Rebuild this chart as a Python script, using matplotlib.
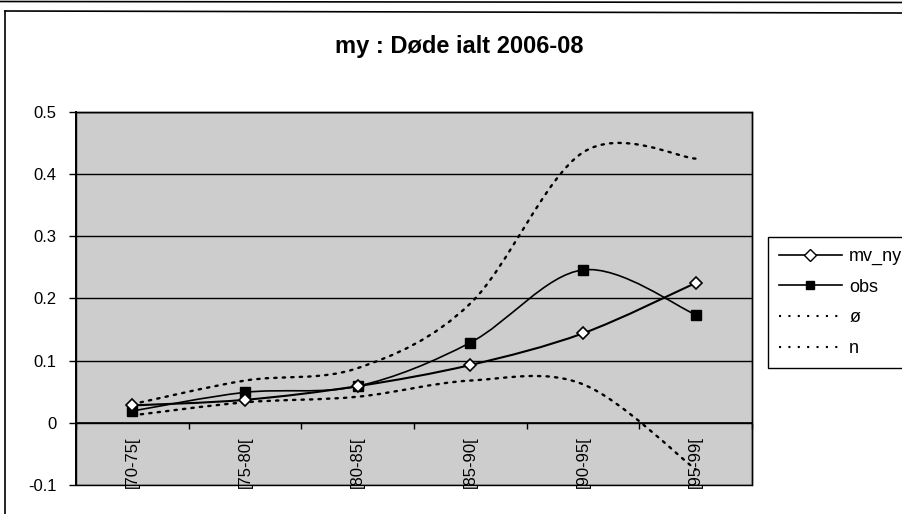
import numpy as np
import matplotlib
matplotlib.use('Agg')
import matplotlib.pyplot as plt
from matplotlib.path import Path
from matplotlib.patches import PathPatch, Rectangle
from matplotlib.lines import Line2D
from matplotlib.transforms import offset_copy

plt.rcParams['font.family'] = ['Liberation Sans', 'DejaVu Sans']

# ---- data ----
categories = ['[70-75[', '[75-80[', '[80-85[', '[85-90[', '[90-95[', '[95-99[']
mv_ny = [0.028, 0.037, 0.059, 0.093, 0.144, 0.225]
obs = [0.019, 0.049, 0.059, 0.129, 0.246, 0.174]
oe = [0.030, 0.068, 0.088, 0.192, 0.435, 0.425]
n_vals = [0.012, 0.033, 0.042, 0.068, 0.062, -0.075]
series_names = ['mv_ny', 'obs', 'ø', 'n']
yticks = [-0.1, 0, 0.1, 0.2, 0.3, 0.4, 0.5]
ytick_labels = ['-0.1', '0', '0.1', '0.2', '0.3', '0.4', '0.5']
title = 'my : Døde ialt 2006-08'


def smooth_path(xs, ys):
    """Excel-like smoothed line (cardinal Bezier spline) through the points."""
    pts = np.column_stack([xs, ys]).astype(float)
    N = len(pts)
    verts = [pts[0]]
    codes = [Path.MOVETO]
    for i in range(N - 1):
        p0 = pts[max(i - 1, 0)]
        p1 = pts[i]
        p2 = pts[i + 1]
        p3 = pts[min(i + 2, N - 1)]
        c1 = p1 + (p2 - p0) / 6.0
        c2 = p2 - (p3 - p1) / 6.0
        verts += [c1, c2, p2]
        codes += [Path.CURVE4] * 3
    return Path(verts, codes)


W, H = 902, 514
fig = plt.figure(figsize=(W / 100, H / 100), dpi=100)
fig.patch.set_facecolor('white')

left, right, top, bottom = 76, 752, 112, 485
ax = fig.add_axes([left / W, 1 - bottom / H, (right - left) / W, (bottom - top) / H])
ax.set_facecolor('#cdcdcd')
ax.set_xlim(-0.5, len(categories) - 0.5)
ax.set_ylim(-0.1, 0.5)

# gridlines
ax.set_yticks(yticks)
ax.set_yticklabels(ytick_labels, fontsize=12)
ax.yaxis.grid(True, color='black', lw=1.0)
ax.set_axisbelow(True)
ax.tick_params(axis='y', direction='out', length=5, width=1, color='black', pad=9)

# spines
for s in ['left', 'right', 'top']:
    ax.spines[s].set_color('black')
    ax.spines[s].set_linewidth(1.0)
ax.spines['left'].set_linewidth(1.4)
ax.spines['bottom'].set_position(('data', 0))
ax.spines['bottom'].set_linewidth(1.2)
ax.add_patch(Rectangle((0, 0), 1, 1, transform=ax.transAxes, fill=False,
                       edgecolor='black', lw=1.0, clip_on=False, zorder=5))

# x ticks at category boundaries, labels drawn inside at the bottom
ax.set_xticks(np.arange(-0.5, len(categories), 1.0))
ax.set_xticklabels([])
ax.tick_params(axis='x', direction='out', length=4, width=1, color='black')
lab_tr = offset_copy(ax.transData, fig=fig, x=0, y=-3, units='dots')
for i, c in enumerate(categories):
    ax.text(i, -0.1, c, rotation=90, ha='center', va='bottom', fontsize=12,
            color='black', zorder=6, transform=lab_tr, clip_on=False)

x = np.arange(len(categories))

# curves
dot_style = dict(facecolor='none', edgecolor='black', lw=1.7,
                 linestyle=(0, (1.0, 2.6)), capstyle='round')
ax.add_patch(PathPatch(smooth_path(x, oe), **dot_style, zorder=3))
ax.add_patch(PathPatch(smooth_path(x, n_vals), **dot_style, zorder=3))
ax.add_patch(PathPatch(smooth_path(x, obs), facecolor='none', edgecolor='black',
                       lw=1.2, zorder=3))
ax.add_patch(PathPatch(smooth_path(x, mv_ny), facecolor='none', edgecolor='black',
                       lw=1.5, zorder=3))
ax.plot(x, obs, linestyle='none', marker='s', markersize=7, color='black', zorder=4)
ax.plot(x, mv_ny, linestyle='none', marker='D', markersize=6.5,
        markerfacecolor='white', markeredgecolor='black', markeredgewidth=1.2, zorder=4)

# legend
handles = [
    Line2D([], [], color='black', lw=1.2, marker='D', markersize=6,
           markerfacecolor='white', markeredgecolor='black'),
    Line2D([], [], color='black', lw=1.2, marker='s', markersize=6,
           markerfacecolor='black'),
    Line2D([], [], color='black', lw=1.5, linestyle=(0, (1.0, 3.5))),
    Line2D([], [], color='black', lw=1.5, linestyle=(0, (1.0, 3.5))),
]
leg = fig.legend(handles, series_names, loc='upper left',
                 bbox_to_anchor=(768 / W, 1 - 237 / H), frameon=True,
                 fancybox=False, edgecolor='black', framealpha=1, fontsize=13,
                 handlelength=3.5, handletextpad=0.4, labelspacing=0.76,
                 borderaxespad=0, borderpad=0.6)
leg.get_frame().set_linewidth(1.0)

# title
fig.text(459 / W, 1 - 47 / H, title, ha='center', va='center', fontsize=17,
         fontweight='bold')

# outer chart border (scan)
fig.add_artist(Line2D([5 / W, 5 / W], [0, 1 - 11 / H], transform=fig.transFigure,
                      color='black', lw=1.2))
fig.add_artist(Line2D([5 / W, 1], [1 - 11 / H, 1 - 13 / H], transform=fig.transFigure,
                      color='black', lw=1.2))
fig.add_artist(Line2D([0, 1], [1 - 1.5 / H, 1 - 2.5 / H], transform=fig.transFigure,
                      color='black', lw=1.2))

fig.savefig('out.png', dpi=100)
